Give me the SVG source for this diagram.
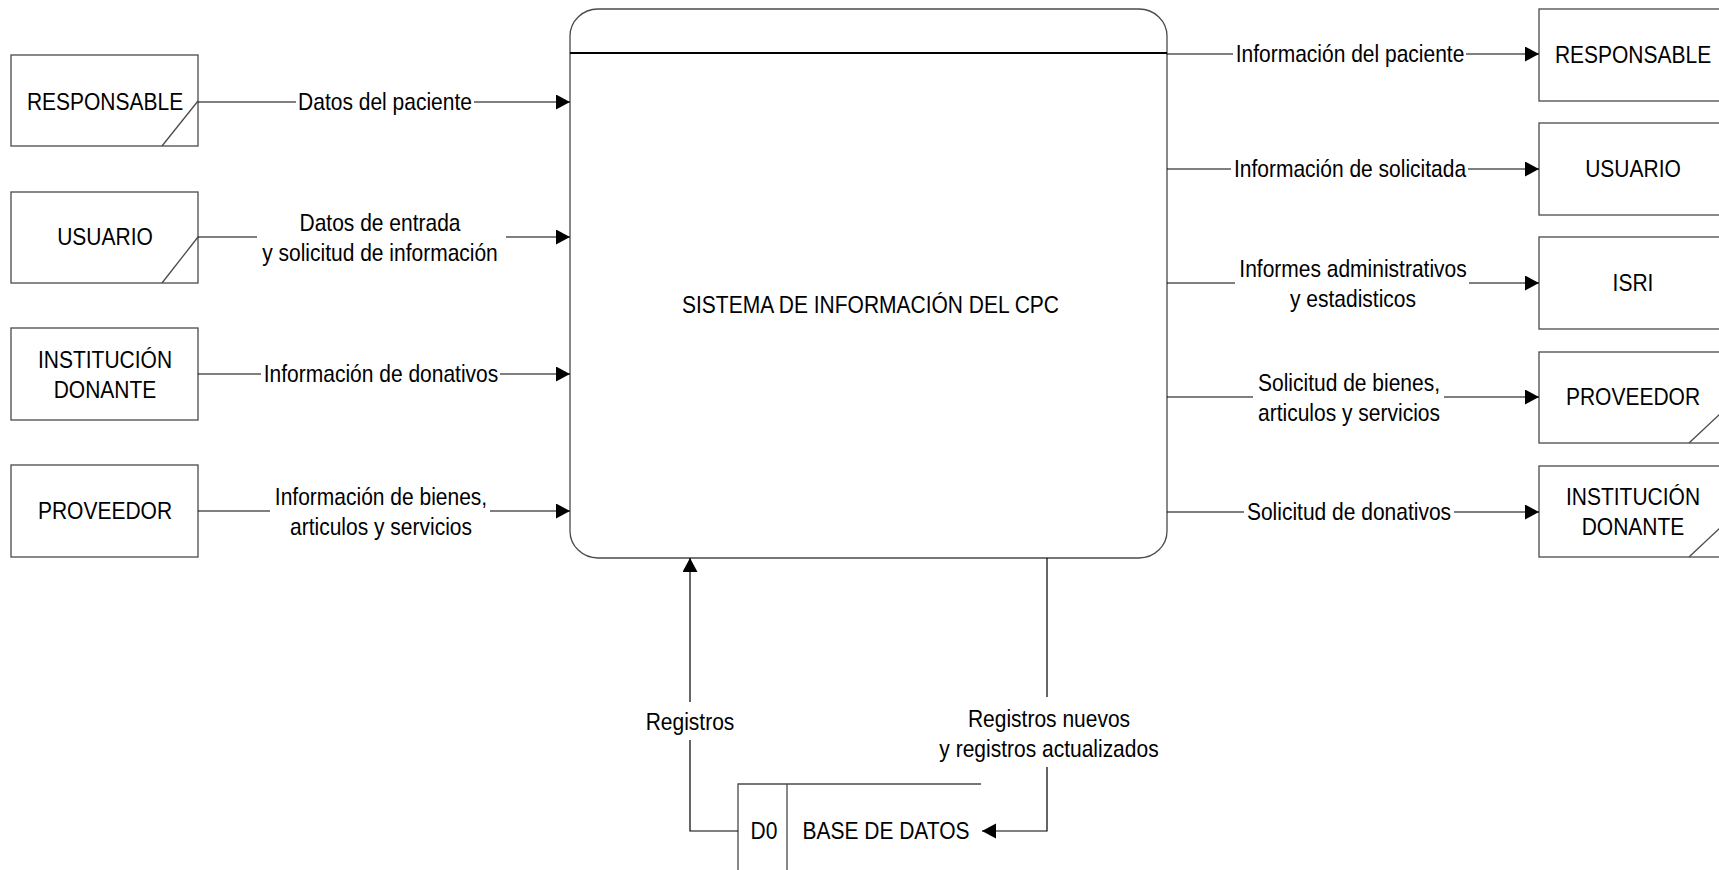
<svg xmlns="http://www.w3.org/2000/svg" width="1719" height="870" viewBox="0 0 1719 870">
  <style>
    .box { fill: #ffffff; stroke: #4a4a4a; stroke-width: 1.3; }
    .edge { fill: none; stroke: #4a4a4a; stroke-width: 1.3; }
    .flow { fill: none; stroke: #000000; stroke-width: 1.2; }
    .arrow { marker-end: url(#head); }
    text { font-family: "Liberation Sans", Arial, sans-serif; font-size: 24px; fill: #000000; text-anchor: middle; }
  </style>
  <defs>
    <marker id="head" markerUnits="userSpaceOnUse" markerWidth="15" markerHeight="16" refX="14" refY="7.5" orient="auto">
      <path d="M0,0 L14,7.5 L0,15 Z" fill="#000000"/>
    </marker>
  </defs>
  <rect width="1719" height="870" fill="#ffffff"/>

  <!-- Central process -->
  <g id="proceso">
    <rect class="box" x="570" y="9" width="597" height="549" rx="28" ry="27"/>
    <line x1="570" y1="53" x2="1167" y2="53" stroke="#000000" stroke-width="2"/>
    <text transform="translate(870.5,313) scale(0.875,1)">SISTEMA DE INFORMACIÓN DEL CPC</text>
  </g>

  <!-- External entities, left column -->
  <g id="responsable-izq">
    <rect class="box" x="11" y="55" width="187" height="91"/>
    <line class="edge" x1="162" y1="146" x2="198" y2="101"/>
    <text transform="translate(105,110) scale(0.875,1)">RESPONSABLE</text>
  </g>
  <g id="usuario-izq">
    <rect class="box" x="11" y="192" width="187" height="91"/>
    <line class="edge" x1="162" y1="283" x2="198" y2="237"/>
    <text transform="translate(105,245) scale(0.875,1)">USUARIO</text>
  </g>
  <g id="institucion-izq">
    <rect class="box" x="11" y="328" width="187" height="92"/>
    <text transform="translate(105,368) scale(0.875,1)"><tspan x="0" y="0">INSTITUCIÓN</tspan><tspan x="0" y="30">DONANTE</tspan></text>
  </g>
  <g id="proveedor-izq">
    <rect class="box" x="11" y="465" width="187" height="92"/>
    <text transform="translate(105,519) scale(0.875,1)">PROVEEDOR</text>
  </g>

  <!-- External entities, right column -->
  <g id="responsable-der">
    <rect class="box" x="1539" y="9" width="188" height="92"/>
    <text transform="translate(1633,63) scale(0.875,1)">RESPONSABLE</text>
  </g>
  <g id="usuario-der">
    <rect class="box" x="1539" y="123" width="188" height="92"/>
    <text transform="translate(1633,177) scale(0.875,1)">USUARIO</text>
  </g>
  <g id="isri">
    <rect class="box" x="1539" y="237" width="188" height="92"/>
    <text transform="translate(1633,291) scale(0.875,1)">ISRI</text>
  </g>
  <g id="proveedor-der">
    <rect class="box" x="1539" y="352" width="188" height="91"/>
    <line class="edge" x1="1689" y1="443" x2="1738" y2="397"/>
    <text transform="translate(1633,405) scale(0.875,1)">PROVEEDOR</text>
  </g>
  <g id="institucion-der">
    <rect class="box" x="1539" y="466" width="188" height="91"/>
    <line class="edge" x1="1689" y1="557" x2="1738" y2="511"/>
    <text transform="translate(1633,505) scale(0.875,1)"><tspan x="0" y="0">INSTITUCIÓN</tspan><tspan x="0" y="30">DONANTE</tspan></text>
  </g>

  <!-- Data store -->
  <g id="base-de-datos">
    <path class="edge" d="M738,872 V784 H981 M787,784 V872"/>
    <text transform="translate(764,839) scale(0.875,1)">D0</text>
    <text transform="translate(886,839) scale(0.875,1)">BASE DE DATOS</text>
  </g>

  <!-- Data flows -->
  <g id="flujos">
    <!-- inputs -->
    <path class="flow" d="M198,102 H296"/>
    <path class="flow arrow" d="M474,102 H570"/>
    <text transform="translate(385,110) scale(0.875,1)">Datos del paciente</text>

    <path class="flow" d="M198,237 H257"/>
    <path class="flow arrow" d="M506,237 H570"/>
    <text transform="translate(380,231) scale(0.875,1)"><tspan x="0" y="0">Datos de entrada</tspan><tspan x="0" y="30">y solicitud de información</tspan></text>

    <path class="flow" d="M198,374 H261"/>
    <path class="flow arrow" d="M500,374 H570"/>
    <text transform="translate(381,382) scale(0.875,1)">Información de donativos</text>

    <path class="flow" d="M198,511 H270"/>
    <path class="flow arrow" d="M490,511 H570"/>
    <text transform="translate(381,505) scale(0.875,1)"><tspan x="0" y="0">Información de bienes,</tspan><tspan x="0" y="30">articulos y servicios</tspan></text>

    <!-- outputs -->
    <path class="flow" d="M1167,54 H1233"/>
    <path class="flow arrow" d="M1466,54 H1539"/>
    <text transform="translate(1350,62) scale(0.875,1)">Información del paciente</text>

    <path class="flow" d="M1167,169 H1231"/>
    <path class="flow arrow" d="M1468,169 H1539"/>
    <text transform="translate(1350,177) scale(0.875,1)">Información de solicitada</text>

    <path class="flow" d="M1167,283 H1235"/>
    <path class="flow arrow" d="M1469,283 H1539"/>
    <text transform="translate(1353,277) scale(0.875,1)"><tspan x="0" y="0">Informes administrativos</tspan><tspan x="0" y="30">y estadisticos</tspan></text>

    <path class="flow" d="M1167,397 H1253"/>
    <path class="flow arrow" d="M1444,397 H1539"/>
    <text transform="translate(1349,391) scale(0.875,1)"><tspan x="0" y="0">Solicitud de bienes,</tspan><tspan x="0" y="30">articulos y servicios</tspan></text>

    <path class="flow" d="M1167,512 H1244"/>
    <path class="flow arrow" d="M1454,512 H1539"/>
    <text transform="translate(1349,520) scale(0.875,1)">Solicitud de donativos</text>

    <!-- store to process -->
    <path class="flow" d="M738,831 H690 V740"/>
    <path class="flow arrow" d="M690,702 V558"/>
    <text transform="translate(690,730) scale(0.875,1)">Registros</text>

    <!-- process to store -->
    <path class="flow" d="M1047,558 V697"/>
    <path class="flow arrow" d="M1047,767 V831 H982"/>
    <text transform="translate(1049,727) scale(0.875,1)"><tspan x="0" y="0">Registros nuevos</tspan><tspan x="0" y="30">y registros actualizados</tspan></text>
  </g>
</svg>
